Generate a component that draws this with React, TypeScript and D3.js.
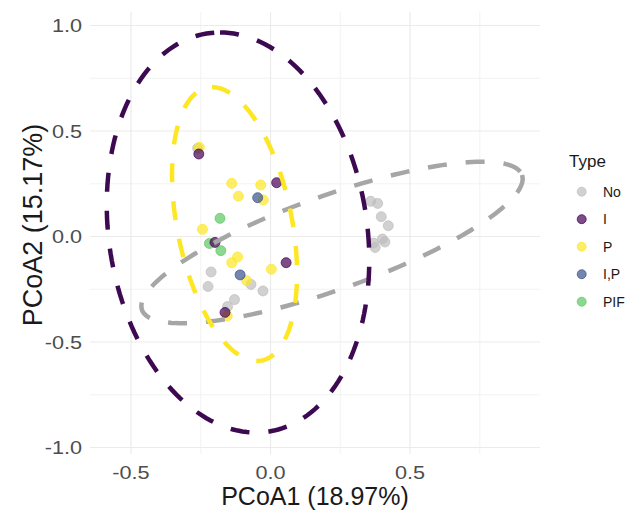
import React from "react";
import * as d3 from "d3";

// ---- data ----
const types = ["No", "I", "P", "I,P", "PIF"];
const typeColors = ["#BEBEBE", "#440154", "#FDE725", "#3B528B", "#5DC863"];

const noX = [-0.261, -0.213, -0.224, -0.070, -0.027, -0.129, -0.154, 0.359, 0.384, 0.397, 0.422, 0.401, 0.410, 0.375, 0.369];
const noY = [0.418, -0.168, -0.237, -0.227, -0.258, -0.299, -0.332, 0.167, 0.157, 0.094, 0.051, -0.012, -0.026, -0.052, -0.031];
const iX = [-0.257, 0.022, -0.199, 0.056, -0.163];
const iY = [0.391, 0.255, -0.028, -0.124, -0.360];
const pX = [-0.255, -0.139, -0.035, -0.115, -0.026, -0.244, -0.118, -0.139, 0.003, -0.086, -0.155];
const pY = [0.423, 0.252, 0.244, 0.191, 0.173, 0.034, -0.097, -0.124, -0.155, -0.209, -0.377];
const ipX = [-0.046, -0.109];
const ipY = [0.184, -0.182];
const pifX = [-0.181, -0.219, -0.178];
const pifY = [0.086, -0.033, -0.067];

// ellipse (stat_ellipse) estimates: centre and two conjugate semi-diameters, in data units
const ellipseTypes = ["No", "I", "P"];
const ellipseCx = [0.2204, -0.1165, -0.129];
const ellipseCy = [-0.0284, 0.019, 0.0592];
const ellipseUx = [0.681, -0.0645, -0.0806];
const ellipseUy = [0.320, 0.948, 0.649];
const ellipseVx = [0.0563, 0.466, 0.209];
const ellipseVy = [-0.210, 0, 0];
const ellipseColors = ["#A6A6A6", "#3D0A52", "#FDE725"];

const xTicks = [-0.5, 0, 0.5];
const xMinor = [-0.25, 0.25, 0.75];
const yTicks = [-1, -0.5, 0, 0.5, 1];
const yMinor = [-0.75, -0.25, 0.25, 0.75];

const xTitle = "PCoA1 (18.97%)";
const yTitle = "PCoA2 (15.17%)";
const legendTitle = "Type";

const W = 627;
const H = 510;
const panel = { left: 90, right: 540, top: 12, bottom: 454 };

export default function App() {
  const x = d3.scaleLinear().domain([-0.647, 0.9659]).range([panel.left, panel.right]);
  const y = d3.scaleLinear().domain([-1.0308, 1.064]).range([panel.bottom, panel.top]);
  const font = "'Liberation Sans', Arial, Helvetica, sans-serif";
  const fmt = (v: number) => d3.format(".1f")(v).replace("\u2212", "-");

  const groups = [
    { type: "No", xs: noX, ys: noY },
    { type: "P", xs: pX, ys: pY },
    { type: "PIF", xs: pifX, ys: pifY },
    { type: "I,P", xs: ipX, ys: ipY },
    { type: "I", xs: iX, ys: iY },
  ];
  const colorOf = (t: string) => typeColors[types.indexOf(t)];

  const line = d3
    .line<[number, number]>()
    .x((d) => x(d[0]))
    .y((d) => y(d[1]))
    .curve(d3.curveLinearClosed);

  const ellipsePaths = ellipseTypes.map((t, i) => {
    const pts: [number, number][] = d3.range(0, 360, 2).map((deg) => {
      const a = (deg * Math.PI) / 180;
      return [
        ellipseCx[i] + ellipseUx[i] * Math.cos(a) + ellipseVx[i] * Math.sin(a),
        ellipseCy[i] + ellipseUy[i] * Math.cos(a) + ellipseVy[i] * Math.sin(a),
      ];
    });
    return { t, d: line(pts) as string, color: ellipseColors[i] };
  });

  const sx = 1.14; // horizontal stretch of the labels in the reference

  return (
    <svg width={W} height={H} style={{ position: "absolute", left: 0, top: 0, background: "#fff" }} fontFamily={font}>
      <rect x={0} y={0} width={W} height={H} fill="#fff" />
      {/* minor grid */}
      {xMinor.map((v) => (
        <line key={"xm" + v} x1={x(v)} x2={x(v)} y1={panel.top} y2={panel.bottom} stroke="#F0F0F0" strokeWidth={0.9} />
      ))}
      {yMinor.map((v) => (
        <line key={"ym" + v} x1={panel.left} x2={panel.right} y1={y(v)} y2={y(v)} stroke="#F0F0F0" strokeWidth={0.9} />
      ))}
      {/* major grid */}
      {xTicks.map((v) => (
        <line key={"xg" + v} x1={x(v)} x2={x(v)} y1={panel.top} y2={panel.bottom} stroke="#EBEBEB" strokeWidth={1.2} />
      ))}
      {yTicks.map((v) => (
        <line key={"yg" + v} x1={panel.left} x2={panel.right} y1={y(v)} y2={y(v)} stroke="#EBEBEB" strokeWidth={1.2} />
      ))}

      {/* points */}
      {groups.map((g) =>
        g.xs.map((xv, i) => (
          <circle
            key={g.type + i}
            cx={x(xv)}
            cy={y(g.ys[i])}
            r={5}
            fill={colorOf(g.type)}
            fillOpacity={0.7}
            stroke={colorOf(g.type)}
            strokeOpacity={0.7}
            strokeWidth={1}
          />
        ))
      )}

      {/* ellipses */}
      {ellipsePaths.map((e) => (
        <path key={e.t} d={e.d} fill="none" stroke={e.color} strokeWidth={4.5} strokeDasharray="19 19" />
      ))}

      {/* axis tick labels */}
      {yTicks.map((v) => (
        <text
          key={"yt" + v}
          transform={`translate(82,${y(v)}) scale(${sx},1)`}
          dy="0.36em"
          textAnchor="end"
          fontSize={19}
          fill="#4D4D4D"
        >
          {fmt(v)}
        </text>
      ))}
      {xTicks.map((v) => (
        <text
          key={"xt" + v}
          transform={`translate(${x(v)},479) scale(${sx},1)`}
          textAnchor="middle"
          fontSize={19}
          fill="#4D4D4D"
        >
          {fmt(v)}
        </text>
      ))}

      {/* axis titles */}
      <text x={(panel.left + panel.right) / 2} y={505} textAnchor="middle" fontSize={25} fill="#1A1A1A">
        {xTitle}
      </text>
      <text transform={`translate(42,225) rotate(-90)`} textAnchor="middle" fontSize={27} fill="#1A1A1A">
        {yTitle}
      </text>

      {/* legend */}
      <text x={569} y={167} fontSize={17} fill="#1A1A1A">
        {legendTitle}
      </text>
      {types.map((t, i) => {
        const cy = 191.7 + i * 27.5;
        return (
          <g key={"lg" + t}>
            <circle cx={581.7} cy={cy} r={4.5} fill={typeColors[i]} fillOpacity={0.7} stroke={typeColors[i]} strokeOpacity={0.7} strokeWidth={1} />
            <text x={603} y={cy} dy="0.36em" fontSize={14} fill="#1A1A1A">
              {t}
            </text>
          </g>
        );
      })}
    </svg>
  );
}
